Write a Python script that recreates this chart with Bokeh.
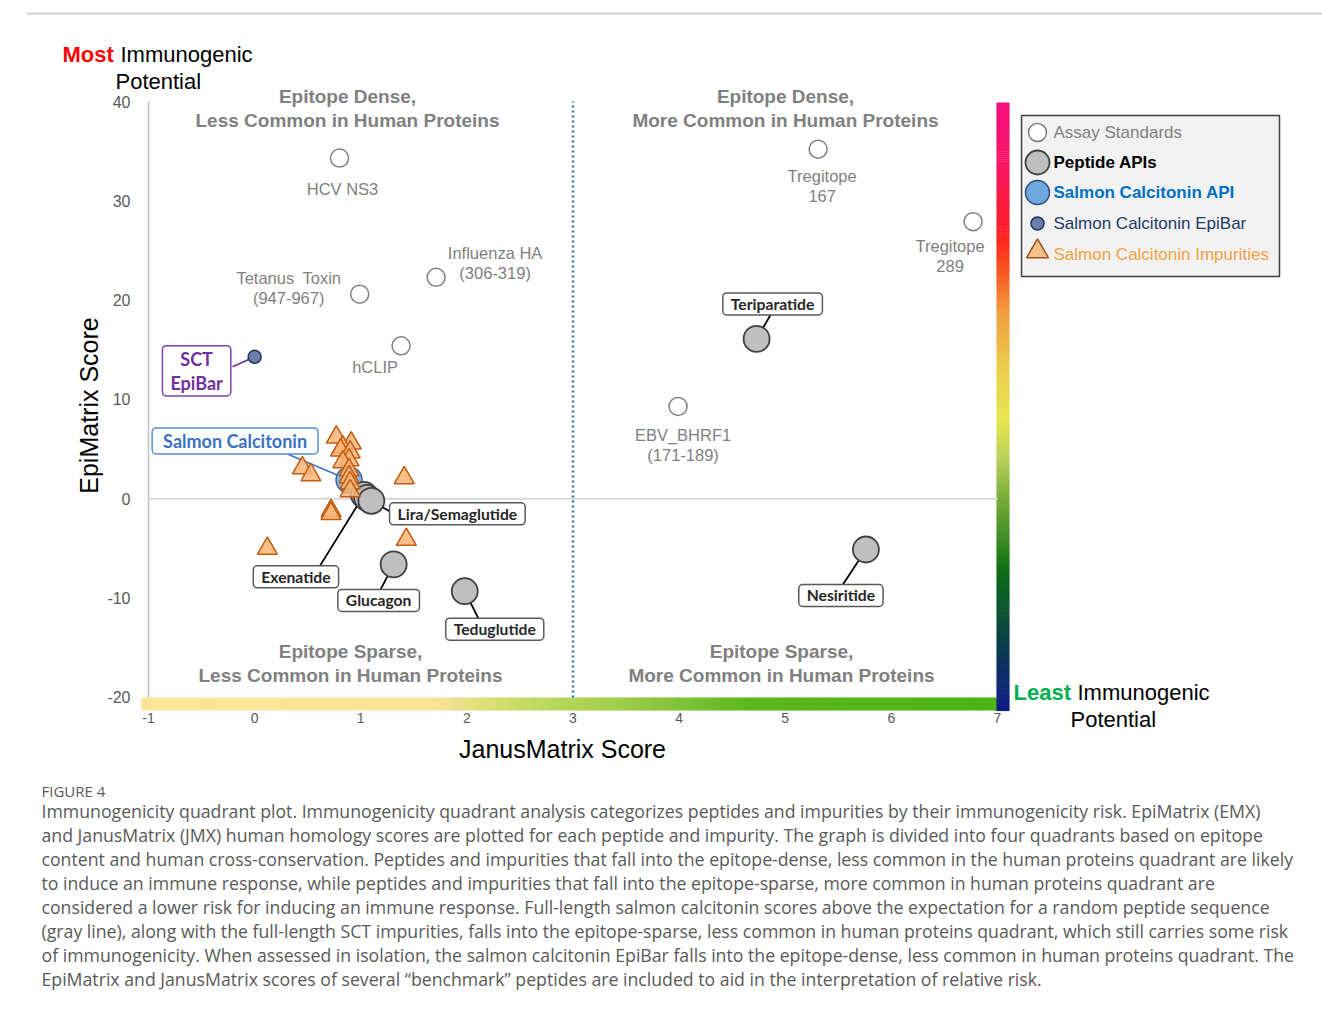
import numpy as np
from bokeh.plotting import figure
from bokeh.models import Range1d, FixedTicker, Label
from bokeh.embed import file_html
from bokeh.resources import INLINE

# ---- scores: JanusMatrix (x) and EpiMatrix (y) ----
assay_names = ["HCV NS3", "Tregitope 167", "Tregitope 289", "Influenza HA (306-319)",
               "Tetanus Toxin (947-967)", "hCLIP", "EBV_BHRF1 (171-189)"]
assay_jmx = [0.80, 5.31, 6.77, 1.71, 0.99, 1.38, 3.99]
assay_emx = [34.3, 35.2, 27.9, 22.3, 20.6, 15.4, 9.3]

api_names = ["Teriparatide", "Exenatide", "Liraglutide", "Semaglutide",
             "Glucagon", "Teduglutide", "Nesiritide"]
api_jmx = [4.73, 1.03, 1.06, 1.10, 1.31, 1.98, 5.76]
api_emx = [16.1, 0.4, 0.1, -0.2, -6.6, -9.3, -5.1]

sct_api_jmx = [0.89]
sct_api_emx = [1.9]

sct_epibar_jmx = [0.0]
sct_epibar_emx = [14.3]

impurity_jmx = [0.77, 0.91, 0.83, 0.81, 0.90, 0.89, 0.83, 0.89, 0.89, 0.90, 0.90,
                0.45, 0.53, 1.41, 0.72, 0.72, 0.12, 1.43]
impurity_emx = [6.2, 5.6, 5.2, 4.9, 4.7, 3.9, 3.7, 2.9, 2.2, 1.6, 0.8,
                3.1, 2.4, 2.1, -1.2, -1.5, -5.0, -4.1]

x_ticks = [-1, 0, 1, 2, 3, 4, 5, 6, 7]
y_ticks = [-20, -10, 0, 10, 20, 30, 40]
jmx_threshold = 3
emx_threshold = 0

# ---- page geometry ----
W, H = 1322, 1010
FRAME_L, FRAME_R, FRAME_T, FRAME_B = 26, 1322, 0, 990
PXX = 106.125   # pixels per JanusMatrix unit
PXY = 9.9333    # pixels per EpiMatrix unit


def X(px):
    return x_ticks[0] + (px - 148) / PXX


def Y(py):
    return y_ticks[-1] - (py - 101) / PXY


p = figure(width=W, height=H, title=None,
           x_range=Range1d(X(FRAME_L), X(FRAME_R)),
           y_range=Range1d(Y(FRAME_B), Y(FRAME_T)),
           output_backend="svg", toolbar_location=None,
           min_border=0, min_border_left=FRAME_L, min_border_bottom=H - FRAME_B,
           outline_line_color=None, background_fill_color="white",
           border_fill_color="white")
p.xgrid.visible = False
p.ygrid.visible = False

xax = p.xaxis[0]
yax = p.yaxis[0]
for ax in (xax, yax):
    ax.axis_line_color = None
    ax.major_tick_line_color = None
    ax.minor_tick_line_color = None
    ax.major_label_text_color = "#595959"
    ax.major_label_text_font = "Liberation Sans"
    ax.major_label_standoff = 0

xax.ticker = FixedTicker(ticks=x_ticks)
xax.major_label_overrides = {t: str(t) for t in x_ticks}
xax.major_label_text_font_size = "14px"
xax.fixed_location = Y(706)

yax.ticker = FixedTicker(ticks=y_ticks)
yax.major_label_overrides = {t: str(t) for t in y_ticks}
yax.major_label_text_font_size = "16px"
yax.fixed_location = X(136)


# ---- colour ramps along the bottom and right edges ----
def hex_rgb(h):
    h = h.lstrip("#")
    return [int(h[i:i + 2], 16) for i in (0, 2, 4)]


def ramp(stops, n):
    pos = [s for s, _ in stops]
    rgb = np.array([hex_rgb(c) for _, c in stops], dtype=float)
    t = (np.arange(n) + 0.5) / n
    cols = []
    for ti in t:
        r, g, b = (np.interp(ti, pos, rgb[:, k]) for k in range(3))
        cols.append("#%02x%02x%02x" % (int(round(r)), int(round(g)), int(round(b))))
    return cols


bottom_stops = [(0.0, "#FDE49A"), (0.34, "#FCE39A"), (0.43, "#CBDD68"),
                (0.55, "#A2CE4E"), (0.71, "#5CB81E"), (1.0, "#4CB415")]
n_b = 220
xe = np.linspace(X(141), x_ticks[-1], n_b + 1)
p.quad(left=xe[:-1], right=xe[1:] + 0.008, top=y_ticks[0], bottom=Y(710),
       fill_color=ramp(bottom_stops, n_b), line_color=None)

right_stops = [(0.0, "#F50F7D"), (0.10, "#FA1564"), (0.22, "#FF2020"),
               (0.28, "#F85A22"), (0.35, "#F0A040"), (0.43, "#EACB4A"),
               (0.52, "#E8E650"), (0.58, "#BCD458"), (0.65, "#7AAE3A"),
               (0.72, "#3A8A22"), (0.77, "#0E6E14"), (0.85, "#0A4E36"),
               (0.93, "#0C3060"), (1.0, "#0D1A88")]
n_r = 300
ye = np.linspace(Y(102), Y(710), n_r + 1)
p.quad(left=X(996), right=X(1009), top=ye[:-1], bottom=ye[1:] - 0.06,
       fill_color=ramp(right_stops, n_r), line_color=None)

# page edge along the top
p.quad(left=[X(10)], right=[X(1322)], top=[Y(12)], bottom=[Y(14)],
       fill_color="#D0D0D0", line_color=None)

# axis line, zero line and the JanusMatrix threshold
p.segment(x0=[x_ticks[0]], y0=[y_ticks[0]], x1=[x_ticks[0]], y1=[y_ticks[-1]],
          line_color="#BFBFBF", line_width=1.5)
p.segment(x0=[x_ticks[0]], y0=[emx_threshold], x1=[x_ticks[-1]], y1=[emx_threshold],
          line_color="#D9D9D9", line_width=2)
p.segment(x0=[jmx_threshold], y0=[y_ticks[0]], x1=[jmx_threshold], y1=[y_ticks[-1]],
          line_color="#2E75B6", line_width=2.5, line_dash="2 3")

# ---- callouts (leader + boxed label) ----
leaders = []
callouts = []


def callout(txt, x0, y0, box_off, end_off, tcolor, bcolor, size, pad, lcolor=None):
    bx, by = x0 + box_off[0] / PXX, y0 - box_off[1] / PXY
    ex, ey = x0 + end_off[0] / PXX, y0 - end_off[1] / PXY
    leaders.append((x0, y0, ex, ey, lcolor or "#000000"))
    callouts.append(Label(x=bx, y=by, text=txt, text_font="Lato", text_font_style="bold",
                          text_font_size=f"{size}px", text_color=tcolor,
                          text_align="center", text_baseline="middle",
                          text_line_height=1.1,
                          background_fill_color="white", border_line_color=bcolor,
                          border_line_width=1.5, border_radius=4, padding=pad))


gray_txt, gray_box = "#262626", "#595959"
gsz, gpad = 15.7, (8, 2)
callout("Teriparatide", api_jmx[0], api_emx[0], (16, -35), (14, -24), gray_txt, gray_box, gsz, gpad)
callout("Lira/Semaglutide", api_jmx[3], api_emx[3], (86, 13), (19, 11), gray_txt, gray_box, gsz, gpad)
callout("Exenatide", api_jmx[1], api_emx[1], (-68, 82), (-44, 71), gray_txt, gray_box, gsz, gpad)
callout("Glucagon", api_jmx[4], api_emx[4], (-15, 36), (-13, 25), gray_txt, gray_box, gsz, gpad)
callout("Teduglutide", api_jmx[5], api_emx[5], (30, 38), (14, 28), gray_txt, gray_box, gsz, gpad)
callout("Nesiritide", api_jmx[6], api_emx[6], (-25, 46), (-23, 35), gray_txt, gray_box, gsz, gpad)
callout("Salmon Calcitonin", sct_api_jmx[0], sct_api_emx[0], (-114, -39), (-64, -27),
        "#3A72C4", "#5B8BD6", 18, (11, 2), "#4472C4")
callout("SCT\nEpiBar", sct_epibar_jmx[0], sct_epibar_emx[0], (-58, 14), (-22, 10),
        "#7030A0", "#7F3FB0", 18, (8, 2), "#7030A0")

p.segment(x0=[l[0] for l in leaders], y0=[l[1] for l in leaders],
          x1=[l[2] for l in leaders], y1=[l[3] for l in leaders],
          line_color=[l[4] for l in leaders], line_width=1.8)

# ---- markers ----
p.scatter(sct_api_jmx, sct_api_emx, marker="circle", size=26,
          fill_color="#8DB5E2", line_color="#41649A", line_width=1.5)
p.scatter(api_jmx, api_emx, marker="circle", size=26,
          fill_color="#BFBFBF", line_color="#404040", line_width=1.8)
p.scatter(assay_jmx, assay_emx, marker="circle", size=18,
          fill_color="white", line_color="#7F7F7F", line_width=1.5)
p.scatter(sct_epibar_jmx, sct_epibar_emx, marker="circle", size=13,
          fill_color="#6C7FAA", line_color="#1F3261", line_width=1.5)
p.scatter(impurity_jmx, impurity_emx, marker="triangle", size=20,
          fill_color="#F8B577", fill_alpha=0.85, line_color="#C25B10", line_width=1.5)

for lab in callouts:
    p.add_layout(lab)


# ---- plain text helpers ----
def text(s, x, y, size, color="#7F7F7F", font="Liberation Sans", style="normal",
         align="center", angle=0.0):
    p.add_layout(Label(x=x, y=y, text=s, text_font=font, text_font_style=style,
                       text_font_size=f"{size}px", text_color=color,
                       text_align=align, text_baseline="middle", angle=angle))


def point_text(lines, x0, y0, off, size=16.5, spacing=20):
    n = len(lines)
    for i, s in enumerate(lines):
        dy = off[1] + (i - (n - 1) / 2) * spacing
        text(s, x0 + off[0] / PXX, y0 - dy / PXY, size)


point_text(["HCV NS3"], assay_jmx[0], assay_emx[0], (3, 31))
point_text(["Tregitope", "167"], assay_jmx[1], assay_emx[1], (4, 36.5))
point_text(["Tregitope", "289"], assay_jmx[2], assay_emx[2], (-23, 34))
point_text(["Influenza HA", "(306-319)"], assay_jmx[3], assay_emx[3], (59, -14))
point_text(["Tetanus\u2002Toxin", "(947-967)"], assay_jmx[4], assay_emx[4], (-71, -6))
point_text(["hCLIP"], assay_jmx[5], assay_emx[5], (-26, 21))
point_text(["EBV_BHRF1", "(171-189)"], assay_jmx[6], assay_emx[6], (5, 38.5))

# quadrant captions
quad_grey = "#808080"
for cx, cy, l1, l2 in [(347, 96, "Epitope Dense,", "Less Common in Human Proteins"),
                       (785, 96, "Epitope Dense,", "More Common in Human Proteins"),
                       (350, 651, "Epitope Sparse,", "Less Common in Human Proteins"),
                       (781, 651, "Epitope Sparse,", "More Common in Human Proteins")]:
    text(l1, X(cx), Y(cy), 19, quad_grey, style="bold")
    text(l2, X(cx), Y(cy + 24), 19, quad_grey, style="bold")

# axis titles
text("EpiMatrix Score", X(88), Y(405), 25, "#000000", angle=np.pi / 2)
text("JanusMatrix Score", X(562), Y(748), 25, "#000000")

# scale end notes
text("Most", X(62), Y(54), 22, "#FF0000", style="bold", align="left")
text("Immunogenic", X(120), Y(54), 22, "#000000", align="left")
text("Potential", X(115), Y(81), 22, "#000000", align="left")
text("Least", X(1013), Y(692), 22, "#00B050", style="bold", align="left")
text("Immunogenic", X(1077), Y(692), 22, "#000000", align="left")
text("Potential", X(1070), Y(719), 22, "#000000", align="left")

# ---- key ----
p.quad(left=[X(1021)], right=[X(1279)], top=[Y(115)], bottom=[Y(276)],
       fill_color="#F2F2F2", line_color="#404040", line_width=1.5)
key_x = X(1037)
p.scatter([key_x], [Y(132)], marker="circle", size=18, fill_color="white",
          line_color="#7F7F7F", line_width=1.5)
p.scatter([key_x], [Y(162)], marker="circle", size=24, fill_color="#BFBFBF",
          line_color="#404040", line_width=1.8)
p.scatter([key_x], [Y(192)], marker="circle", size=24, fill_color="#6FA8DC",
          line_color="#2F4F7F", line_width=1.5)
p.scatter([key_x], [Y(223)], marker="circle", size=13, fill_color="#6C7FAA",
          line_color="#1F3261", line_width=1.5)
p.scatter([key_x], [Y(251)], marker="triangle", size=22, fill_color="#F8C08A",
          line_color="#A0501A", line_width=1.5)
kx = X(1053)
text("Assay Standards", kx, Y(132), 17, "#7F7F7F", align="left")
text("Peptide APIs", kx, Y(162), 17, "#000000", style="bold", align="left")
text("Salmon Calcitonin API", kx, Y(192), 17, "#0070C0", style="bold", align="left")
text("Salmon Calcitonin EpiBar", kx, Y(223), 17, "#1F3864", align="left")
text("Salmon Calcitonin Impurities", kx, Y(254), 17, "#F4A045", align="left")

# ---- figure caption ----
text("FIGURE 4", X(41), Y(790), 15, "#595959", font="Open Sans", align="left")
caption = [
    "Immunogenicity quadrant plot. Immunogenicity quadrant analysis categorizes peptides and impurities by their immunogenicity risk. EpiMatrix (EMX)",
    "and JanusMatrix (JMX) human homology scores are plotted for each peptide and impurity. The graph is divided into four quadrants based on epitope",
    "content and human cross-conservation. Peptides and impurities that fall into the epitope-dense, less common in the human proteins quadrant are likely",
    "to induce an immune response, while peptides and impurities that fall into the epitope-sparse, more common in human proteins quadrant are",
    "considered a lower risk for inducing an immune response. Full-length salmon calcitonin scores above the expectation for a random peptide sequence",
    "(gray line), along with the full-length SCT impurities, falls into the epitope-sparse, less common in human proteins quadrant, which still carries some risk",
    "of immunogenicity. When assessed in isolation, the salmon calcitonin EpiBar falls into the epitope-dense, less common in human proteins quadrant. The",
    "EpiMatrix and JanusMatrix scores of several \u201cbenchmark\u201d peptides are included to aid in the interpretation of relative risk.",
]
for i, line in enumerate(caption):
    text(line, X(41), Y(810 + 24 * i), 17.7, "#595959", font="Open Sans", align="left")

open("out.html", "w").write(file_html(p, INLINE))
